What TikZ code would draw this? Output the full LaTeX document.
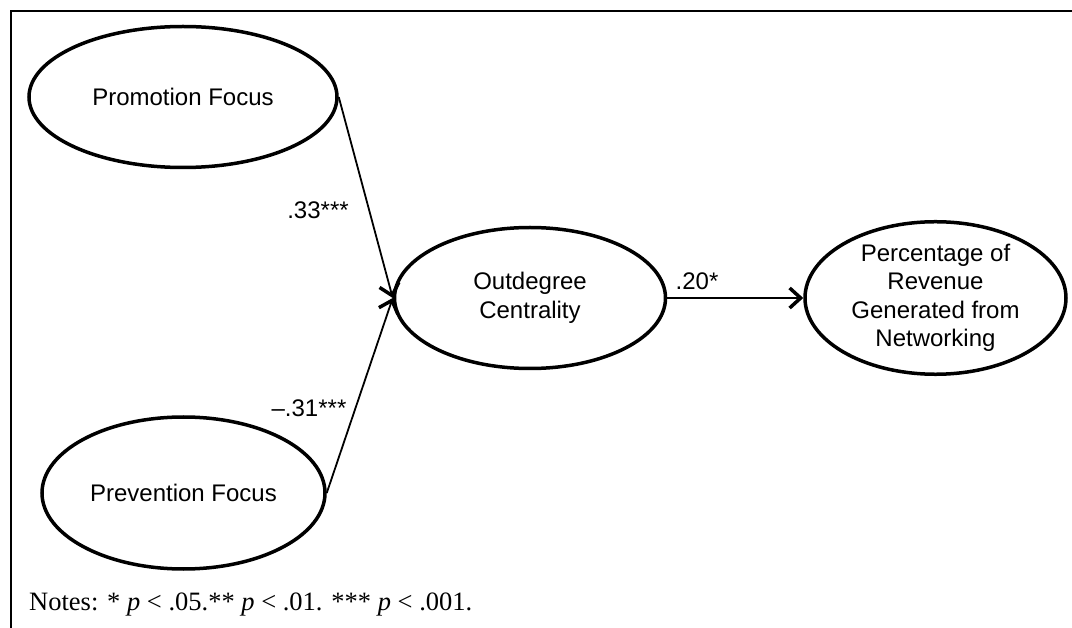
\documentclass[tikz,border=0pt]{standalone}
\usepackage{fontspec}
\setmainfont{Liberation Sans}
\newfontfamily\notefont{Liberation Serif}
\usetikzlibrary{shapes.geometric, arrows.meta}
\tikzset{
    construct/.style={
        ellipse, draw=black, line width=3.5pt, inner sep=0pt,
        align=center, font=\fontsize{24}{28.5}\selectfont
    },
    patharrow/.style={
        -{Straight Barb[length=11pt, width=20pt, line width=3.5pt]}, line width=1.8pt
    },
    coef/.style={
        inner sep=0pt, font=\fontsize{24}{28}\selectfont
    },
    frameline/.style={
        line width=2.5pt
    }
}

\begin{document}
\begin{tikzpicture}[x=1pt, y=-1pt]

    \useasboundingbox (0,0) rectangle (1072,628);
    \draw[frameline] (11,630) -- (11,11) -- (1074,11);

    \node[construct, minimum width=308pt, minimum height=141pt] (promo)   at (183,97)    {Promotion Focus};
    \node[construct, minimum width=283pt, minimum height=152pt] (prev)    at (183.5,493) {Prevention Focus};
    \node[construct, minimum width=271pt, minimum height=141pt] (outdeg)  at (530,298)   {Outdegree\\Centrality};
    \node[construct, minimum width=261pt, minimum height=150pt] (revenue) at (935.5,298) {Percentage of\\Revenue\\Generated from\\Networking};

    \draw[patharrow] (promo.east)  -- (outdeg.west);
    \draw[patharrow] (prev.east)   -- (outdeg.west);
    \draw[patharrow] (outdeg.east) -- (revenue.west);

    \node[coef] (bpromo) at (318,210) {.33***};
    \node[coef] (bprev)  at (309,408) {–.31***};
    \node[coef] (bout)   at (697,281) {.20*};

    \node[anchor=west, inner sep=0pt, font=\notefont\fontsize{26.5}{30}\selectfont] (notes) at (29,605)
        {Notes: * \textit{p} < .05.** \textit{p} < .01. *** \textit{p} < .001.};

\end{tikzpicture}
\end{document}
